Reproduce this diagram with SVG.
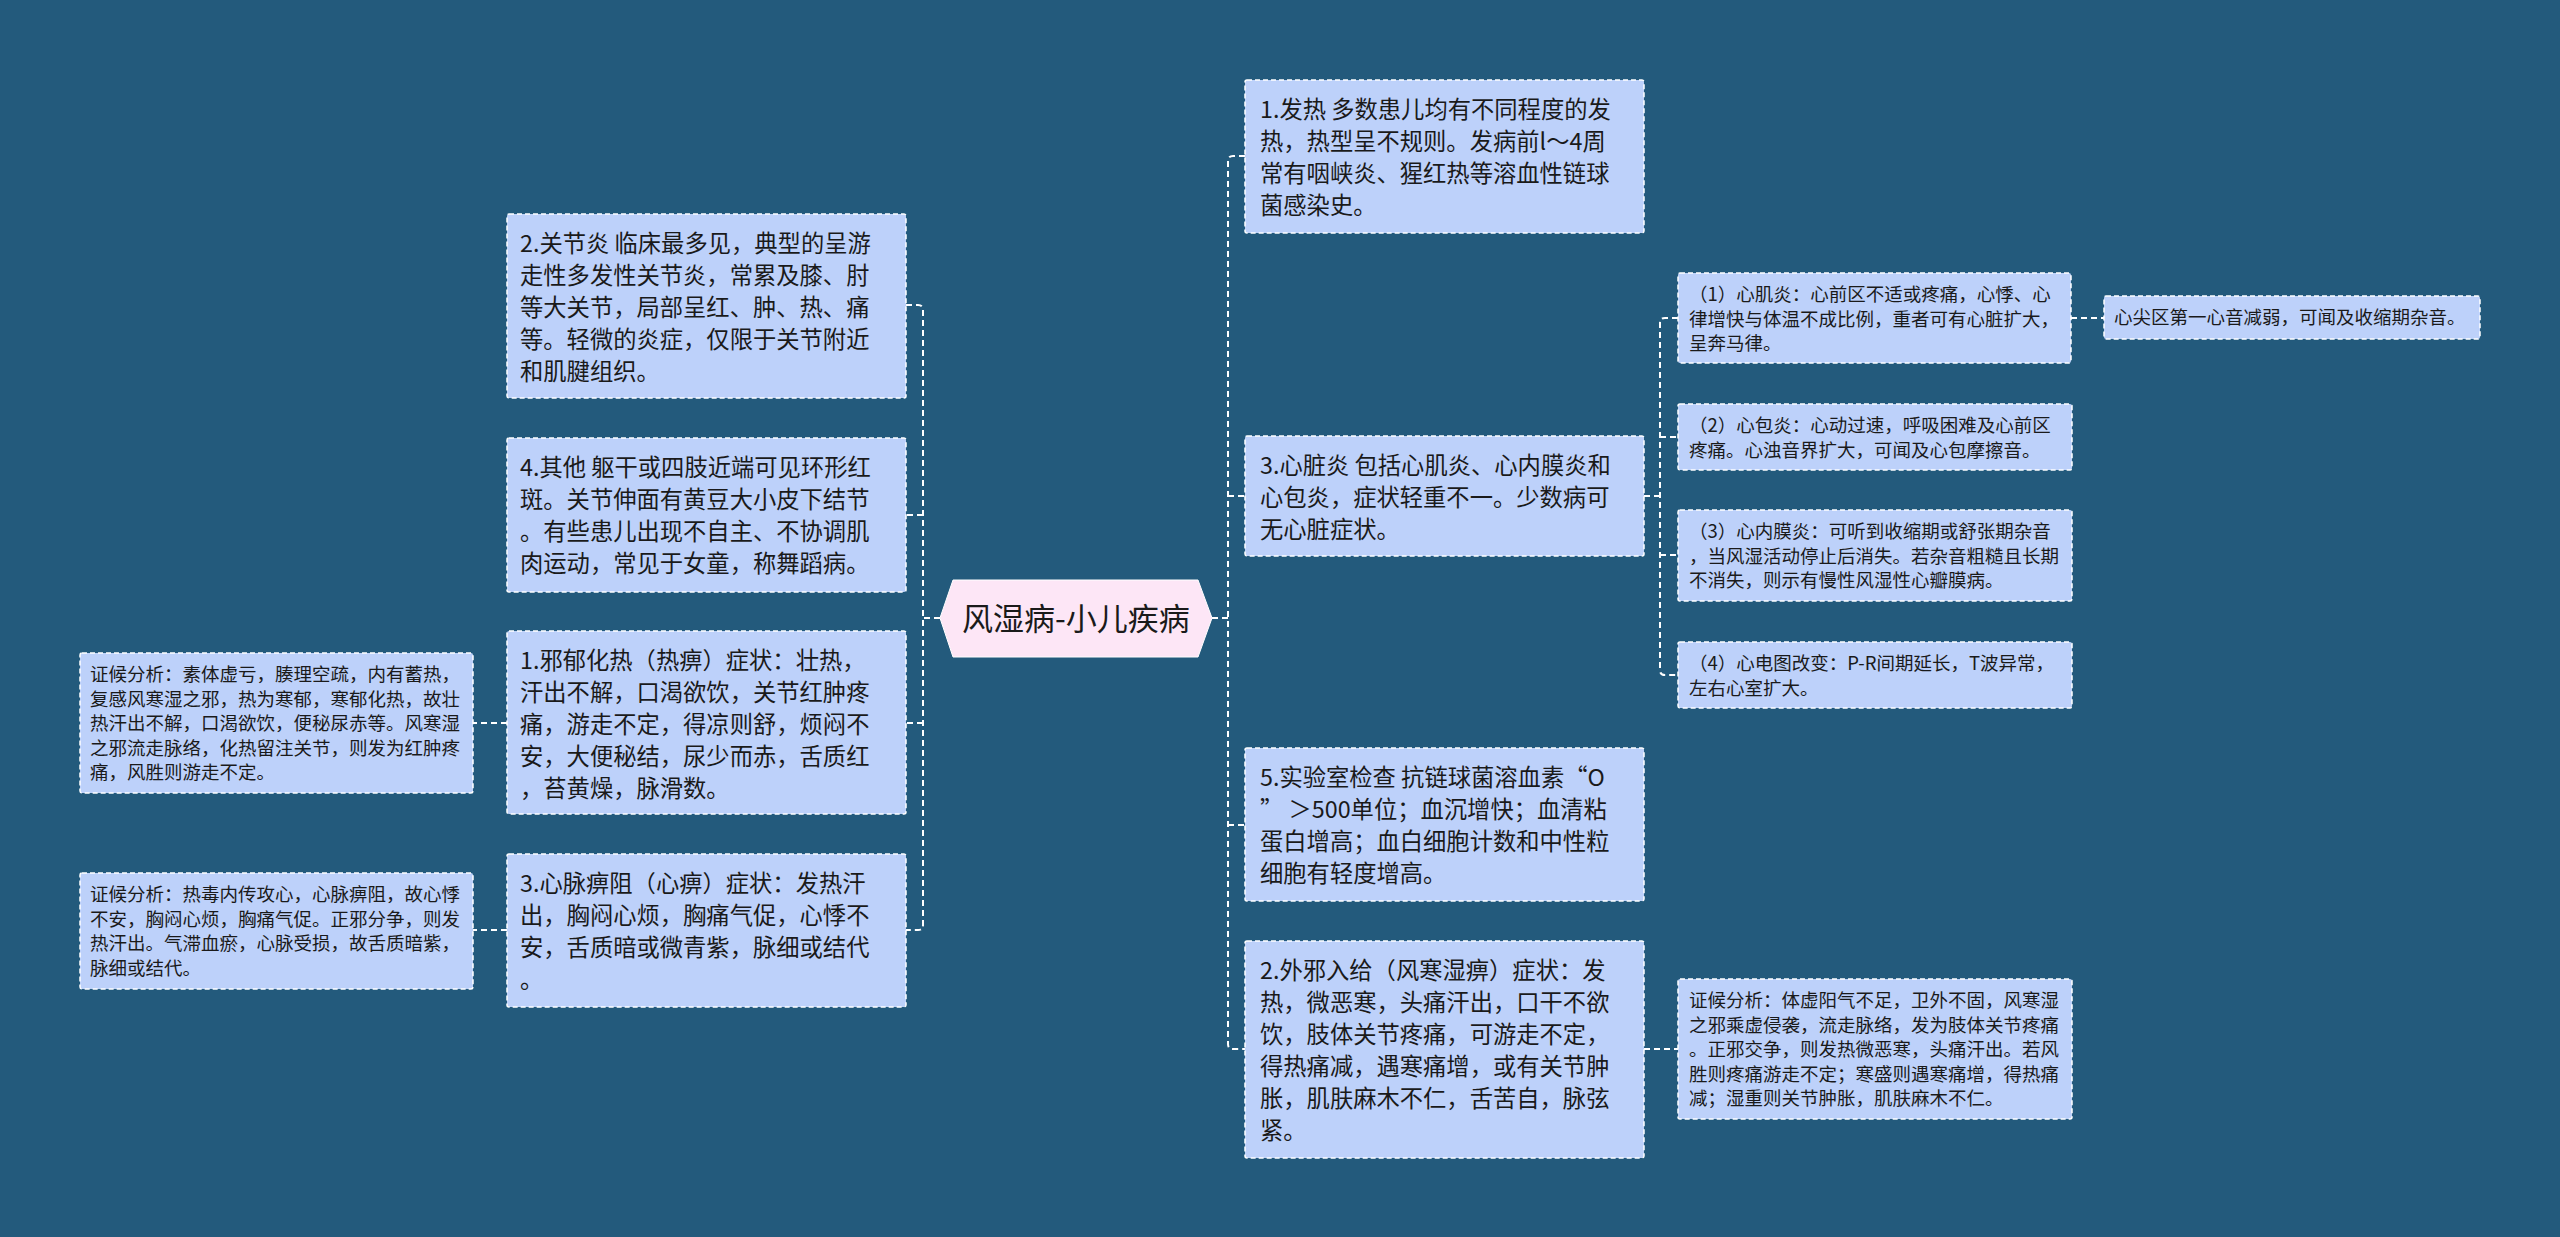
<svg xmlns="http://www.w3.org/2000/svg" width="2560" height="1237" viewBox="0 0 2560 1237">
<style>
.bg{fill:#235a7c}
.n{fill:#bdd1fa;stroke:#ffffff;stroke-width:1.5;stroke-dasharray:5 3}
.c{fill:#fde6f6;stroke:#ffffff;stroke-width:1}
.t{font-family:"Noto Sans CJK SC","Microsoft YaHei",sans-serif;font-size:23.3px;fill:#1a1a1a}
.s{font-family:"Noto Sans CJK SC","Microsoft YaHei",sans-serif;font-size:18.5px;fill:#1a1a1a}
.ct{font-family:"Noto Sans CJK SC","Microsoft YaHei",sans-serif;font-size:31px;fill:#1a1a1a}
.l{fill:none;stroke:#ffffff;stroke-width:2;stroke-dasharray:6 4}
</style>
<rect class="bg" x="0" y="0" width="2560" height="1237"/>

<g id="connectors">
<path class="l" d="M940,618 H923"/>
<path class="l" d="M906,305 H918 Q923,305 923,310 V925 Q923,930 918,930 H906"/>
<path class="l" d="M923,515 H906"/>
<path class="l" d="M923,723 H906"/>
<path class="l" d="M507,723 H473"/>
<path class="l" d="M507,930 H473"/>
<path class="l" d="M1212,618 H1228"/>
<path class="l" d="M1245,156 H1233 Q1228,156 1228,161 V1044 Q1228,1049 1233,1049 H1245"/>
<path class="l" d="M1228,496 H1245"/>
<path class="l" d="M1228,825 H1245"/>
<path class="l" d="M1644,496 H1660"/>
<path class="l" d="M1678,318 H1665 Q1660,318 1660,323 V670 Q1660,675 1665,675 H1678"/>
<path class="l" d="M1660,437 H1678"/>
<path class="l" d="M1660,555 H1678"/>
<path class="l" d="M2071,318 H2104"/>
<path class="l" d="M1644,1049 H1678"/>
</g>

<g id="center">
<polygon class="c" points="940,618 953,580 1198,580 1212,618 1198,657 953,657"/>
<text class="ct" x="1076" y="630" text-anchor="middle">风湿病-小儿疾病</text>
</g>

<g id="n-guanjie">
<rect class="n" x="507" y="214" width="399" height="184" rx="2"/>
<text class="t" x="520" y="252">2.关节炎 临床最多见，典型的呈游</text>
<text class="t" x="520" y="284">走性多发性关节炎，常累及膝、肘</text>
<text class="t" x="520" y="316">等大关节，局部呈红、肿、热、痛</text>
<text class="t" x="520" y="348">等。轻微的炎症，仅限于关节附近</text>
<text class="t" x="520" y="380">和肌腱组织。</text>
</g>

<g id="n-qita">
<rect class="n" x="507" y="438" width="399" height="154" rx="2"/>
<text class="t" x="520" y="476">4.其他 躯干或四肢近端可见环形红</text>
<text class="t" x="520" y="508">斑。关节伸面有黄豆大小皮下结节</text>
<text class="t" x="520" y="540">。有些患儿出现不自主、不协调肌</text>
<text class="t" x="520" y="572">肉运动，常见于女童，称舞蹈病。</text>
</g>

<g id="n-xieyu">
<rect class="n" x="507" y="631" width="399" height="183" rx="2"/>
<text class="t" x="520" y="669">1.邪郁化热（热痹）症状：壮热，</text>
<text class="t" x="520" y="701">汗出不解，口渴欲饮，关节红肿疼</text>
<text class="t" x="520" y="733">痛，游走不定，得凉则舒，烦闷不</text>
<text class="t" x="520" y="765">安，大便秘结，尿少而赤，舌质红</text>
<text class="t" x="520" y="797">，苔黄燥，脉滑数。</text>
</g>

<g id="a-xieyu">
<rect class="n" x="80" y="653" width="393" height="140" rx="2"/>
<text class="s" x="90" y="681">证候分析：素体虚亏，腠理空疏，内有蓄热，</text>
<text class="s" x="90" y="705.5">复感风寒湿之邪，热为寒郁，寒郁化热，故壮</text>
<text class="s" x="90" y="730">热汗出不解，口渴欲饮，便秘尿赤等。风寒湿</text>
<text class="s" x="90" y="754.5">之邪流走脉络，化热留注关节，则发为红肿疼</text>
<text class="s" x="90" y="779">痛，风胜则游走不定。</text>
</g>

<g id="n-xinmai">
<rect class="n" x="507" y="854" width="399" height="153" rx="2"/>
<text class="t" x="520" y="892">3.心脉痹阻（心痹）症状：发热汗</text>
<text class="t" x="520" y="924">出，胸闷心烦，胸痛气促，心悸不</text>
<text class="t" x="520" y="956">安，舌质暗或微青紫，脉细或结代</text>
<text class="t" x="520" y="988">。</text>
</g>

<g id="a-xinmai">
<rect class="n" x="80" y="873" width="393" height="116" rx="2"/>
<text class="s" x="90" y="901">证候分析：热毒内传攻心，心脉痹阻，故心悸</text>
<text class="s" x="90" y="925.5">不安，胸闷心烦，胸痛气促。正邪分争，则发</text>
<text class="s" x="90" y="950">热汗出。气滞血瘀，心脉受损，故舌质暗紫，</text>
<text class="s" x="90" y="974.5">脉细或结代。</text>
</g>

<g id="n-fare">
<rect class="n" x="1245" y="80" width="399" height="153" rx="2"/>
<text class="t" x="1260" y="118">1.发热 多数患儿均有不同程度的发</text>
<text class="t" x="1260" y="150">热，热型呈不规则。发病前l～4周</text>
<text class="t" x="1260" y="182">常有咽峡炎、猩红热等溶血性链球</text>
<text class="t" x="1260" y="214">菌感染史。</text>
</g>

<g id="n-xinzang">
<rect class="n" x="1245" y="436" width="399" height="120" rx="2"/>
<text class="t" x="1260" y="474">3.心脏炎 包括心肌炎、心内膜炎和</text>
<text class="t" x="1260" y="506">心包炎，症状轻重不一。少数病可</text>
<text class="t" x="1260" y="538">无心脏症状。</text>
</g>

<g id="n-xinji">
<rect class="n" x="1678" y="273" width="393" height="90" rx="2"/>
<text class="s" x="1689" y="301">（1）心肌炎：心前区不适或疼痛，心悸、心</text>
<text class="s" x="1689" y="325.5">律增快与体温不成比例，重者可有心脏扩大，</text>
<text class="s" x="1689" y="350">呈奔马律。</text>
</g>

<g id="a-xinjian">
<rect class="n" x="2104" y="296" width="376" height="43" rx="2"/>
<text class="s" x="2114" y="324">心尖区第一心音减弱，可闻及收缩期杂音。</text>
</g>

<g id="n-xinbao">
<rect class="n" x="1678" y="404" width="394" height="66" rx="2"/>
<text class="s" x="1689" y="432">（2）心包炎：心动过速，呼吸困难及心前区</text>
<text class="s" x="1689" y="456.5">疼痛。心浊音界扩大，可闻及心包摩擦音。</text>
</g>

<g id="n-xinnei">
<rect class="n" x="1678" y="510" width="394" height="91" rx="2"/>
<text class="s" x="1689" y="538">（3）心内膜炎：可听到收缩期或舒张期杂音</text>
<text class="s" x="1689" y="562.5">，当风湿活动停止后消失。若杂音粗糙且长期</text>
<text class="s" x="1689" y="587">不消失，则示有慢性风湿性心瓣膜病。</text>
</g>

<g id="n-xindian">
<rect class="n" x="1678" y="642" width="394" height="66" rx="2"/>
<text class="s" x="1689" y="670">（4）心电图改变：P-R间期延长，T波异常，</text>
<text class="s" x="1689" y="694.5">左右心室扩大。</text>
</g>

<g id="n-shiyan">
<rect class="n" x="1245" y="748" width="399" height="153" rx="2"/>
<text class="t" x="1260" y="786">5.实验室检查 抗链球菌溶血素“O</text>
<text class="t" x="1260" y="818">” ＞500单位；血沉增快；血清粘</text>
<text class="t" x="1260" y="850">蛋白增高；血白细胞计数和中性粒</text>
<text class="t" x="1260" y="882">细胞有轻度增高。</text>
</g>

<g id="n-waixie">
<rect class="n" x="1245" y="941" width="399" height="217" rx="2"/>
<text class="t" x="1260" y="979">2.外邪入给（风寒湿痹）症状：发</text>
<text class="t" x="1260" y="1011">热，微恶寒，头痛汗出，口干不欲</text>
<text class="t" x="1260" y="1043">饮，肢体关节疼痛，可游走不定，</text>
<text class="t" x="1260" y="1075">得热痛减，遇寒痛增，或有关节肿</text>
<text class="t" x="1260" y="1107">胀，肌肤麻木不仁，舌苦自，脉弦</text>
<text class="t" x="1260" y="1139">紧。</text>
</g>

<g id="a-waixie">
<rect class="n" x="1678" y="979" width="394" height="140" rx="2"/>
<text class="s" x="1689" y="1007">证候分析：体虚阳气不足，卫外不固，风寒湿</text>
<text class="s" x="1689" y="1031.5">之邪乘虚侵袭，流走脉络，发为肢体关节疼痛</text>
<text class="s" x="1689" y="1056">。正邪交争，则发热微恶寒，头痛汗出。若风</text>
<text class="s" x="1689" y="1080.5">胜则疼痛游走不定；寒盛则遇寒痛增，得热痛</text>
<text class="s" x="1689" y="1105">减；湿重则关节肿胀，肌肤麻木不仁。</text>
</g>
</svg>
